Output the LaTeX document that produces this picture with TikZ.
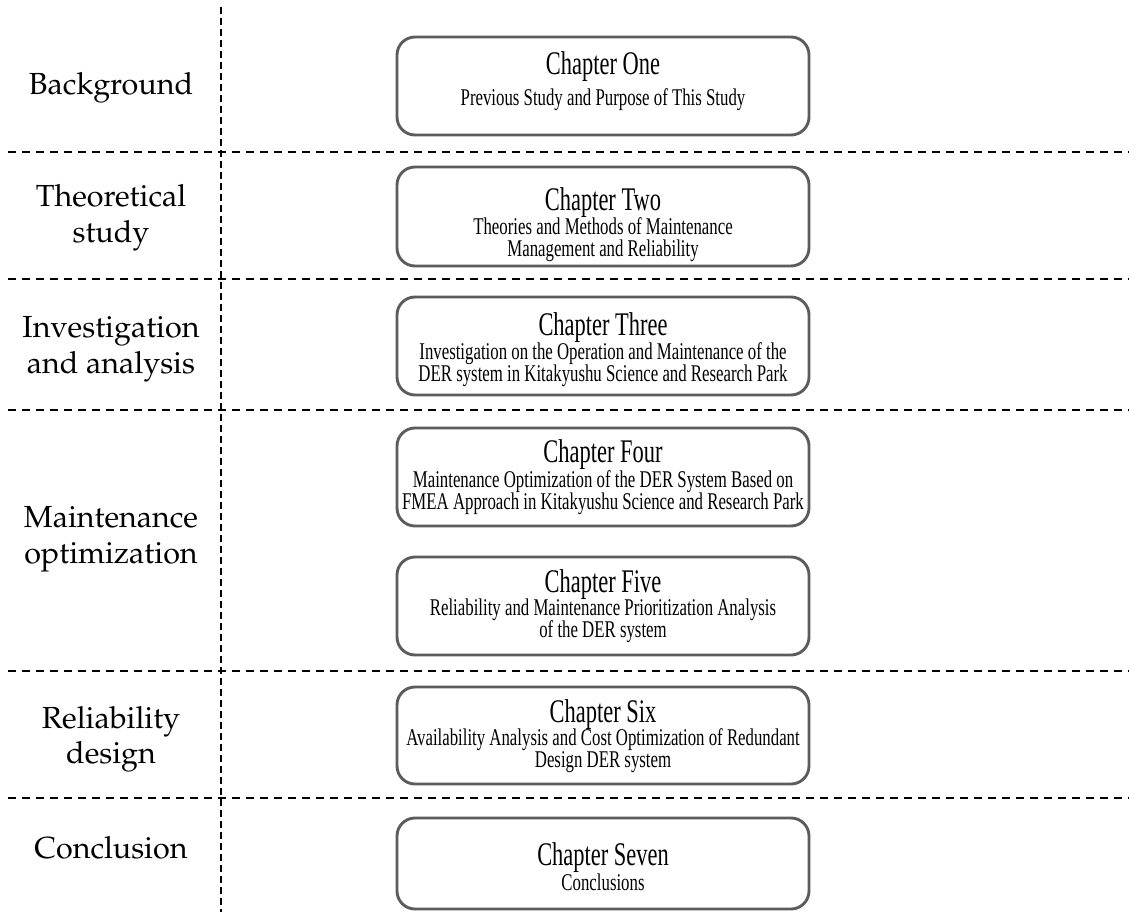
\documentclass[tikz,border=0pt]{standalone}
\usepackage[T1]{fontenc}
\usepackage{fontspec}
\newfontfamily\chapfont[FakeStretch=0.68]{Liberation Serif}
\newfontfamily\subfont[FakeStretch=0.70]{Liberation Serif}
\newcommand\palfont{\fontencoding{T1}\fontfamily{ppl}\selectfont}
\begin{document}
\begin{tikzpicture}[x=1pt,y=-1pt,
  chapbox/.style={draw=black!64, line width=2.9pt, rounded corners=18pt,
    minimum width=412pt, inner sep=0pt},
  hsep/.style={line width=2.4pt, dash pattern=on 8pt off 6pt},
  vsep/.style={line width=2.4pt, dash pattern=on 7pt off 4pt},
  lbl/.style={font=\palfont\fontsize{30.5}{35}\selectfont, anchor=base, inner sep=0pt},
  ttl/.style={font=\chapfont\fontsize{33}{33}\selectfont, anchor=base, inner sep=0pt,
    text height=22pt, text depth=5pt},
  sub/.style={font=\subfont\fontsize{24}{24}\selectfont, anchor=base, inner sep=0pt,
    text height=16pt, text depth=4.5pt}]
\useasboundingbox (0,0) rectangle (1129,912);

% separators
\coordinate (vt) at (221,7);
\coordinate (vb) at (221,912);
\draw[vsep] (vt) -- (vb);
\foreach \yy [count=\i] in {152,279,410,671,798}{
  \coordinate (hl\i) at (8,\yy);
  \coordinate (hr\i) at (1129,\yy);
  \draw[hsep] (hl\i) -- (hr\i);
}

% stage labels
\node[lbl] (l1)  at (111,95)  {Background};
\node[lbl] (l2a) at (111,207) {Theoretical};
\node[lbl] (l2b) at (111,242) {study};
\node[lbl] (l3a) at (111,337) {Investigation};
\node[lbl] (l3b) at (111,373) {and analysis};
\node[lbl] (l4a) at (111,527) {Maintenance};
\node[lbl] (l4b) at (111,563) {optimization};
\node[lbl] (l5a) at (111,728) {Reliability};
\node[lbl] (l5b) at (111,763) {design};
\node[lbl] (l6)  at (111,858) {Conclusion};

% chapter boxes
\node[chapbox, minimum height=98pt] (c1) at (603,86)    {};
\node[chapbox, minimum height=99pt] (c2) at (603,216.5) {};
\node[chapbox, minimum height=98pt] (c3) at (603,346)   {};
\node[chapbox, minimum height=98pt] (c4) at (603,477)   {};
\node[chapbox, minimum height=98pt] (c5) at (603,606)   {};
\node[chapbox, minimum height=97pt] (c6) at (603,735.5) {};
\node[chapbox, minimum height=91pt] (c7) at (603,863.5) {};

% chapter texts
\node[ttl] (t1)  at (603,75)  {Chapter One};
\node[sub] (s1)  at (603,106) {Previous Study and Purpose of This Study};

\node[ttl] (t2)  at (603,211) {Chapter Two};
\node[sub] (s2a) at (603,234) {Theories and Methods of Maintenance};
\node[sub] (s2b) at (603,256) {Management and Reliability};

\node[ttl] (t3)  at (603,335) {Chapter Three};
\node[sub] (s3a) at (603,359) {Investigation on the Operation and Maintenance of the};
\node[sub] (s3b) at (603,381) {DER system in Kitakyushu Science and Research Park};

\node[ttl] (t4)  at (603,462) {Chapter Four};
\node[sub] (s4a) at (603,487) {Maintenance Optimization of the DER System Based on};
\node[sub] (s4b) at (603,509) {FMEA Approach in Kitakyushu Science and Research Park};

\node[ttl] (t5)  at (603,592) {Chapter Five};
\node[sub] (s5a) at (603,615) {Reliability and Maintenance Prioritization Analysis};
\node[sub] (s5b) at (603,637) {of the DER system};

\node[ttl] (t6)  at (603,722) {Chapter Six};
\node[sub] (s6a) at (603,745) {Availability Analysis and Cost Optimization of Redundant};
\node[sub] (s6b) at (603,767) {Design DER system};

\node[ttl] (t7)  at (603,865) {Chapter Seven};
\node[sub] (s7)  at (603,890) {Conclusions};
\end{tikzpicture}
\end{document}
